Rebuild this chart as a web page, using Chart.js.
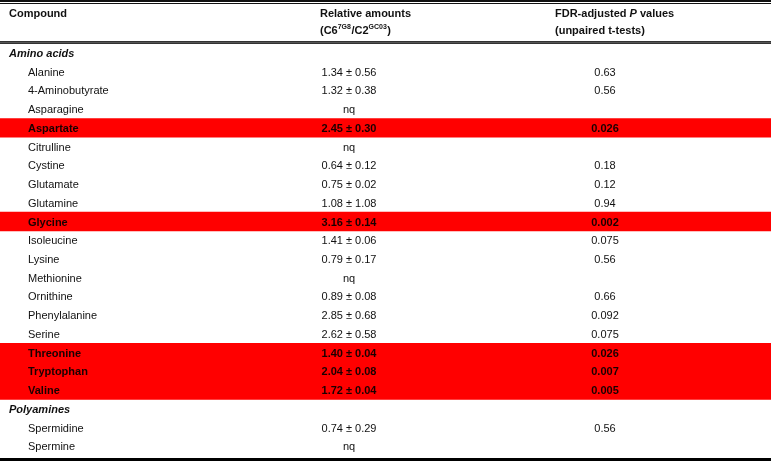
<!DOCTYPE html>
<html>
<head>
<meta charset="utf-8">
<script src="https://cdn.jsdelivr.net/npm/chart.js@4/dist/chart.umd.min.js"></script>
<style>
  html, body { margin: 0; padding: 0; background: #fff; }
  #wrap { width: 771px; height: 461px; position: relative; }
</style>
</head>
<body>
<div id="wrap"><canvas id="c"></canvas></div>
<script>
// ---- Data ----
const compounds = ['Amino acids','Alanine','4-Aminobutyrate','Asparagine','Aspartate','Citrulline','Cystine',
  'Glutamate','Glutamine','Glycine','Isoleucine','Lysine','Methionine','Ornithine','Phenylalanine','Serine',
  'Threonine','Tryptophan','Valine','Polyamines','Spermidine','Spermine'];
const sectionRows = ['Amino acids','Polyamines'];
// relative amounts (C6 7G8 / C2 GC03): mean and SD; null = nq (not quantified)
const relMean = [null,1.34,1.32,null,2.45,null,0.64,0.75,1.08,3.16,1.41,0.79,null,0.89,2.85,2.62,1.40,2.04,1.72,null,0.74,null];
const relSd   = [null,0.56,0.38,null,0.30,null,0.12,0.02,1.08,0.14,0.06,0.17,null,0.08,0.68,0.58,0.04,0.08,0.04,null,0.29,null];
// FDR-adjusted P values (unpaired t-tests)
const pValues = [null,0.63,0.56,null,0.026,null,0.18,0.12,0.94,0.002,0.075,0.56,null,0.66,0.092,0.075,0.026,0.007,0.005,null,0.56,null];
const significance = 0.05;

const highlight = pValues.map(p => (p !== null && p < significance) ? [0, 1] : null);

const FONT = '"Liberation Sans", Arial, sans-serif';

const tablePlugin = {
  id: 'tableText',
  beforeDraw(chart) {
    const ctx = chart.ctx;
    ctx.save();
    ctx.fillStyle = '#fff';
    ctx.fillRect(0, 0, chart.width, chart.height);
    ctx.restore();
  },
  afterDatasetsDraw(chart) {
    const ctx = chart.ctx;
    const y = chart.scales.y;
    const W = chart.width;
    ctx.save();
    // rules
    ctx.fillStyle = '#111';
    ctx.fillRect(0, 0, W, 2);
    ctx.fillRect(0, 3, W, 1);
    ctx.fillStyle = '#333';
    ctx.fillRect(0, 41, W, 1);
    ctx.fillRect(0, 43, W, 1);
    ctx.fillStyle = '#555';
    ctx.fillRect(0, 42, W, 1);
    ctx.fillStyle = '#000';
    ctx.fillRect(0, 458, W, 3);

    // header
    ctx.fillStyle = '#111';
    ctx.textBaseline = 'middle';
    ctx.textAlign = 'left';
    ctx.font = 'bold 11px ' + FONT;
    ctx.fillText('Compound', 9, 14);
    ctx.fillText('Relative amounts', 320, 14);
    // (C6^7G8/C2^GC03)
    let x = 320;
    const parts = [['(C6', false], ['7G8', true], ['/C2', false], ['GC03', true], [')', false]];
    parts.forEach(([t, sup]) => {
      ctx.font = (sup ? 'bold 7px ' : 'bold 11px ') + FONT;
      ctx.fillText(t, x, sup ? 27 : 31);
      x += ctx.measureText(t).width + (sup ? 0.5 : 0);
    });
    ctx.font = 'bold 11px ' + FONT;
    let t1 = 'FDR-adjusted ';
    ctx.fillText(t1, 555, 14);
    let x2 = 555 + ctx.measureText(t1).width;
    ctx.font = 'italic bold 11px ' + FONT;
    ctx.fillText('P', x2, 14);
    x2 += ctx.measureText('P').width;
    ctx.font = 'bold 11px ' + FONT;
    ctx.fillText(' values', x2, 14);
    ctx.fillText('(unpaired t-tests)', 555, 31);

    // rows
    compounds.forEach((name, i) => {
      const yy = y.getPixelForValue(i) + 1;
      const isSection = sectionRows.includes(name);
      const bold = highlight[i] !== null;
      ctx.fillStyle = bold ? '#1a0000' : '#111';
      ctx.textAlign = 'left';
      if (isSection) {
        ctx.font = 'italic bold 11px ' + FONT;
        ctx.fillText(name, 9, yy);
        return;
      }
      ctx.font = (bold ? 'bold ' : '') + '11px ' + FONT;
      ctx.fillText(name, 28, yy);
      ctx.textAlign = 'center';
      const rel = relMean[i] === null ? 'nq' : relMean[i].toFixed(2) + ' \u00B1 ' + relSd[i].toFixed(2);
      ctx.fillText(rel, 349, yy);
      if (pValues[i] !== null) ctx.fillText(String(pValues[i]), 605, yy);
    });
    ctx.restore();
  }
};

new Chart(document.getElementById('c'), {
  type: 'bar',
  data: {
    labels: compounds,
    datasets: [{
      data: highlight,
      backgroundColor: '#ff0000',
      borderWidth: 0,
      barPercentage: 1,
      categoryPercentage: 1
    }]
  },
  options: {
    indexAxis: 'y',
    responsive: true,
    maintainAspectRatio: false,
    animation: false,
    layout: { padding: { top: 43.6, bottom: 5.4, left: 0, right: 0 } },
    plugins: { legend: { display: false }, tooltip: { enabled: false } },
    scales: {
      x: { display: false, min: 0, max: 1 },
      y: { display: false }
    }
  },
  plugins: [tablePlugin]
});
</script>
</body>
</html>
